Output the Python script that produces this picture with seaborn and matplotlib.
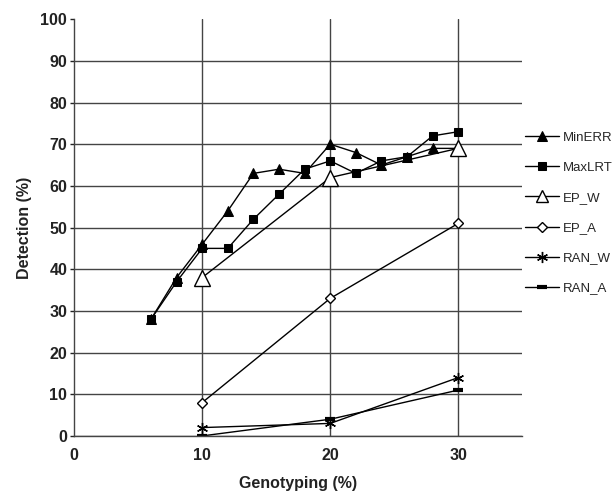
import matplotlib
matplotlib.use("Agg")
import matplotlib.pyplot as plt
import seaborn as sns

# Data
minerr_x = [6, 8, 10, 12, 14, 16, 18, 20, 22, 24, 26, 28, 30]
minerr_y = [28, 38, 46, 54, 63, 64, 63, 70, 68, 65, 67, 69, 69]

maxlrt_x = [6, 8, 10, 12, 14, 16, 18, 20, 22, 24, 26, 28, 30]
maxlrt_y = [28, 37, 45, 45, 52, 58, 64, 66, 63, 66, 67, 72, 73]

ep_x = [10, 20, 30]
ep_w_y = [38, 62, 69]
ep_a_y = [8, 33, 51]
ran_w_y = [2, 3, 14]
ran_a_y = [0, 4, 11]

x_ticks = [0, 10, 20, 30]
y_ticks = [0, 10, 20, 30, 40, 50, 60, 70, 80, 90, 100]

sns.set_style("white")
plt.rcParams['font.family'] = ['Liberation Sans', 'DejaVu Sans']

fig = plt.figure(figsize=(6.13, 4.92), dpi=100)
ax = fig.add_axes([0.121, 0.114, 0.731, 0.847])

line_kw = dict(color="black", linewidth=1.0)

sns.lineplot(x=minerr_x, y=minerr_y, ax=ax, label="MinERR", marker="^",
             markersize=7.5, markerfacecolor="black", markeredgecolor="black", **line_kw)
sns.lineplot(x=maxlrt_x, y=maxlrt_y, ax=ax, label="MaxLRT", marker="s",
             markersize=6, markerfacecolor="black", markeredgecolor="black", **line_kw)
sns.lineplot(x=ep_x, y=ep_w_y, ax=ax, label="EP_W", marker="^",
             markersize=11, markerfacecolor="white", markeredgecolor="black",
             markeredgewidth=1.0, **line_kw)
sns.lineplot(x=ep_x, y=ep_a_y, ax=ax, label="EP_A", marker="D",
             markersize=5, markerfacecolor="white", markeredgecolor="black",
             markeredgewidth=1.0, **line_kw)
sns.lineplot(x=ep_x, y=ran_w_y, ax=ax, label="RAN_W", marker=(6, 2, 0),
             markersize=8, markeredgecolor="black", markeredgewidth=1.0, **line_kw)
sns.lineplot(x=ep_x, y=ran_a_y, ax=ax, label="RAN_A", marker="_",
             markersize=7, markeredgecolor="black", markeredgewidth=3, **line_kw)

ax.set_xlim(0, 35)
ax.set_ylim(0, 100)
ax.set_xticks(x_ticks)
ax.set_yticks(y_ticks)
ax.tick_params(axis="both", labelsize=11.5, colors="#222222")
ax.tick_params(axis="y", length=3, width=1, pad=2, left=True)
ax.tick_params(axis="x", length=0, pad=9)
for lab in ax.get_xticklabels() + ax.get_yticklabels():
    lab.set_fontweight("bold")

ax.grid(True, color="#444444", linewidth=1.0)
# no gridline along the top edge
ax.yaxis.get_gridlines()[-1].set_visible(False)
ax.xaxis.get_gridlines()[0].set_visible(False)

for side in ["top", "right"]:
    ax.spines[side].set_visible(False)
for side in ["left", "bottom"]:
    ax.spines[side].set_color("#444444")
    ax.spines[side].set_linewidth(1.0)

ax.set_xlabel("Genotyping (%)", fontsize=11.5, fontweight="bold", color="#222222", labelpad=9)
ax.set_ylabel("Detection (%)", fontsize=11.5, fontweight="bold", color="#222222", labelpad=6)

leg = ax.legend(loc="center left", bbox_to_anchor=(525 / 613, 1 - 213 / 492),
                bbox_transform=fig.transFigure, frameon=False, fontsize=9.5,
                handlelength=2.6, handletextpad=0.25, labelspacing=1.35,
                borderpad=0, borderaxespad=0)
# the open triangle is drawn smaller in the legend than on the plot
leg.legend_handles[2].set_markersize(8)

plt.savefig("out.png", dpi=100)
plt.close()
